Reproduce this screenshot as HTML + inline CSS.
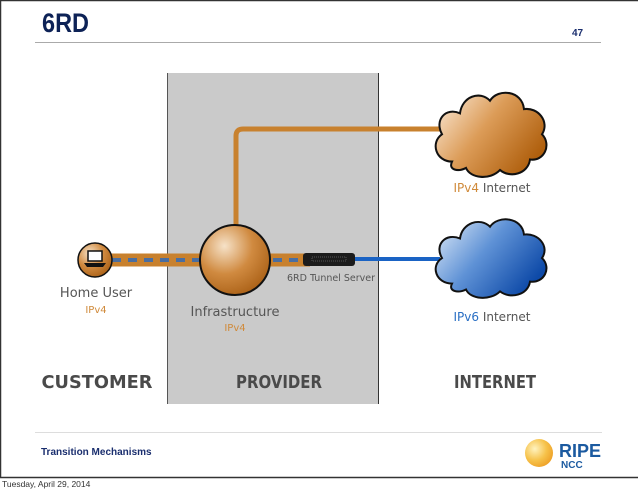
<!DOCTYPE html>
<html><head><meta charset="utf-8"><style>
body{margin:0;width:638px;height:491px;background:#fff;overflow:hidden;font-family:"Liberation Sans",sans-serif}
</style></head><body>
<svg width="638" height="491" viewBox="0 0 638 491" xmlns="http://www.w3.org/2000/svg">
<defs>
<radialGradient id="sph" cx="0.35" cy="0.3" r="0.8">
<stop offset="0" stop-color="#f6e2c8"/><stop offset="0.5" stop-color="#d08a40"/><stop offset="1" stop-color="#a65c12"/></radialGradient>
<linearGradient id="oc" x1="0" y1="0" x2="1" y2="0.6">
<stop offset="0" stop-color="#fdf0e2"/><stop offset="0.5" stop-color="#dc9c58"/><stop offset="1" stop-color="#b0600e"/></linearGradient>
<linearGradient id="bc" x1="0" y1="0" x2="1" y2="0.6">
<stop offset="0" stop-color="#e4eef9"/><stop offset="0.5" stop-color="#5f92d6"/><stop offset="1" stop-color="#0e4aa8"/></linearGradient>
<radialGradient id="sun" cx="0.35" cy="0.35" r="0.7">
<stop offset="0" stop-color="#fff3c0"/><stop offset="0.6" stop-color="#f6c24a"/><stop offset="1" stop-color="#eea229"/></radialGradient>
<path id="cloud" d="M22,72 C6,72 0,54 12,46 C4,32 16,20 30,26 C32,10 50,4 60,14 C68,2 92,4 94,22 C108,20 120,34 112,46 C122,56 114,72 100,70 C98,84 80,88 70,80 C60,90 40,88 36,78 C28,82 18,80 22,72 Z"/>
</defs>
<line x1="0" y1="0.5" x2="638" y2="0.5" stroke="#333" stroke-width="1.5"/>
<line x1="0.5" y1="0" x2="0.5" y2="478" stroke="#333" stroke-width="1.5"/>
<line x1="0" y1="477.5" x2="638" y2="477.5" stroke="#333" stroke-width="1.5"/>
<text x="42" y="32" font-size="27" font-weight="bold" fill="#0d2256" textLength="47" lengthAdjust="spacingAndGlyphs">6RD</text>
<text x="572" y="36" font-size="10" font-weight="bold" fill="#1a2e6e">47</text>
<line x1="35" y1="42.5" x2="601" y2="42.5" stroke="#aaa" stroke-width="1"/>
<rect x="167" y="73" width="212" height="331" fill="#cacaca"/>
<line x1="167.5" y1="73" x2="167.5" y2="404" stroke="#555" stroke-width="1"/>
<line x1="378.5" y1="73" x2="378.5" y2="404" stroke="#333" stroke-width="1"/>
<path d="M236,232 V136 Q236,129 243,129 H440" fill="none" stroke="#c8812e" stroke-width="5"/>
<line x1="350" y1="259" x2="440" y2="259" stroke="#1a63c4" stroke-width="4"/>
<line x1="95" y1="260" x2="215" y2="260" stroke="#c8812e" stroke-width="13"/>
<line x1="112" y1="260" x2="205" y2="260" stroke="#4a6ea0" stroke-width="4" stroke-dasharray="9,7"/>
<line x1="265" y1="260" x2="310" y2="260" stroke="#c8812e" stroke-width="13"/>
<line x1="273" y1="260" x2="305" y2="260" stroke="#4a6ea0" stroke-width="4" stroke-dasharray="9,7"/>
<circle cx="95" cy="260" r="17" fill="url(#sph)" stroke="#111" stroke-width="1.5"/>
<rect x="88" y="251" width="14" height="10" fill="#fff" stroke="#111" stroke-width="1.5"/>
<path d="M84,263 H106 L103,267 H87 Z" fill="#111"/>
<circle cx="235" cy="260" r="35" fill="url(#sph)" stroke="#111" stroke-width="2"/>
<rect x="303" y="253" width="52" height="13" rx="3" fill="#1b1b1b"/>
<rect x="312" y="257" width="34" height="4" fill="none" stroke="#555" stroke-width="1" stroke-dasharray="1,1"/>
<g transform="translate(430,86) scale(1,1.05)"><use href="#cloud" fill="url(#oc)" stroke="#111" stroke-width="2"/></g>
<g transform="translate(430,213) scale(1,0.98)"><use href="#cloud" fill="url(#bc)" stroke="#111" stroke-width="2"/></g>
<g font-family="'DejaVu Sans',sans-serif">
<text x="492" y="192" font-size="12" text-anchor="middle" fill="#555"><tspan fill="#d08a3a">IPv4</tspan> Internet</text>
<text x="492" y="321" font-size="12" text-anchor="middle" fill="#555"><tspan fill="#2a6fc4">IPv6</tspan> Internet</text>
<text x="96" y="297" font-size="13" text-anchor="middle" fill="#555">Home User</text>
<text x="96" y="313" font-size="10" text-anchor="middle" fill="#d08a3a">IPv4</text>
<text x="235" y="316" font-size="13" text-anchor="middle" fill="#555">Infrastructure</text>
<text x="235" y="331" font-size="10" text-anchor="middle" fill="#d08a3a">IPv4</text>
<text x="331" y="281" font-size="9.5" text-anchor="middle" fill="#555">6RD Tunnel Server</text>
<text x="97" y="388" font-size="17.5" font-weight="bold" text-anchor="middle" fill="#4a4a4a" textLength="111" lengthAdjust="spacingAndGlyphs">CUSTOMER</text>
<text x="279" y="388" font-size="17.5" font-weight="bold" text-anchor="middle" fill="#4a4a4a" textLength="86" lengthAdjust="spacingAndGlyphs">PROVIDER</text>
<text x="495" y="388" font-size="17.5" font-weight="bold" text-anchor="middle" fill="#4a4a4a" textLength="82" lengthAdjust="spacingAndGlyphs">INTERNET</text>
</g>
<line x1="35" y1="432.5" x2="602" y2="432.5" stroke="#ddd" stroke-width="1"/>
<text x="41" y="455" font-size="10" font-weight="bold" fill="#1a2e6e">Transition Mechanisms</text>
<circle cx="539" cy="453" r="14" fill="url(#sun)"/>
<text x="559" y="457" font-size="18" font-weight="bold" fill="#1b5aa0">RIPE</text>
<text x="561" y="468" font-size="10" font-weight="bold" fill="#1b5aa0">NCC</text>
<text x="2" y="487" font-size="8.5" fill="#333">Tuesday, April 29, 2014</text>
</svg>
</body></html>
